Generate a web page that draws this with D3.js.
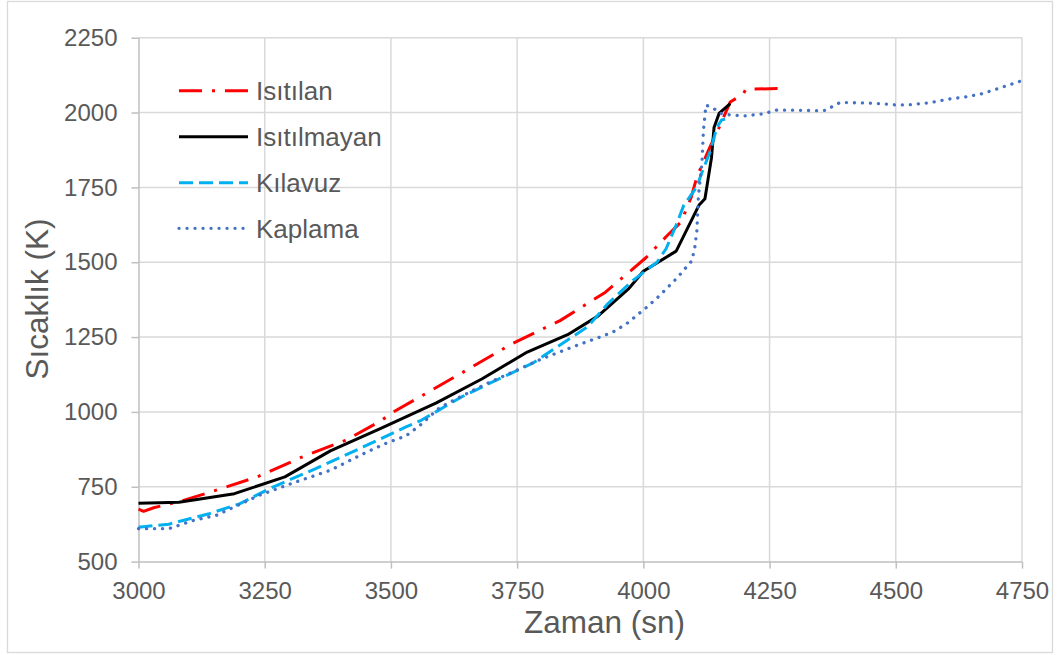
<!DOCTYPE html>
<html>
<head>
<meta charset="utf-8">
<script src="https://cdn.jsdelivr.net/npm/d3@7"></script>
<style>
  html, body { margin: 0; padding: 0; background: #fff; }
  svg { display: block; }
  text { font-family: "Liberation Sans", Arial, sans-serif; fill: #595959; }
</style>
</head>
<body>
<svg id="chart" width="1060" height="655"></svg>
<script>
// ---- Data ----
const xTicks = [3000, 3250, 3500, 3750, 4000, 4250, 4500, 4750];
const yTicks = [500, 750, 1000, 1250, 1500, 1750, 2000, 2250];

const seriesNames = ["Isıtılan", "Isıtılmayan", "Kılavuz", "Kaplama"];

const isitilanTime = [3000, 3010, 3030, 3080, 3140, 3235, 3325, 3410, 3480, 3500, 3640, 3740, 3835, 3925, 4005, 4045, 4075, 4095, 4106, 4132, 4150, 4172, 4198, 4203, 4268];
const isitilanTemp = [675, 668, 680, 700, 731, 783, 850, 905, 970, 995, 1130, 1228, 1305, 1400, 1515, 1585, 1635, 1718, 1785, 1885, 1950, 2035, 2062, 2078, 2080];

const isitilmayanTime = [3000, 3080, 3190, 3290, 3380, 3480, 3590, 3680, 3770, 3850, 3910, 3970, 4000, 4065, 4110, 4122, 4135, 4140, 4150, 4172];
const isitilmayanTemp = [695, 698, 727, 783, 870, 945, 1030, 1110, 1200, 1258, 1320, 1410, 1470, 1537, 1690, 1712, 1850, 1950, 1997, 2030];

const kilavuzTime = [3000, 3060, 3140, 3200, 3265, 3350, 3445, 3530, 3560, 3640, 3695, 3780, 3850, 3890, 3930, 3980, 4027, 4045, 4066, 4080, 4106, 4116, 4132, 4146, 4155, 4162];
const kilavuzTemp = [615, 625, 660, 693, 748, 810, 883, 950, 972, 1050, 1095, 1162, 1240, 1285, 1362, 1440, 1500, 1545, 1628, 1690, 1752, 1800, 1868, 1952, 1975, 1978];

const kaplamaTime = [3000, 3060, 3110, 3155, 3190, 3240, 3310, 3380, 3445, 3490, 3530, 3558, 3597, 3643, 3690, 3742, 3800, 3860, 3914, 3940, 3967, 4007, 4030, 4066, 4096, 4102, 4106, 4109, 4116, 4119, 4124, 4139, 4152, 4172, 4201, 4235, 4264, 4300, 4347, 4363, 4376, 4390, 4456, 4505, 4535, 4568, 4601, 4634, 4667, 4697, 4747];
const kaplamaTemp = [610, 610, 638, 655, 683, 722, 765, 805, 860, 895, 920, 956, 1015, 1055, 1095, 1134, 1178, 1217, 1250, 1267, 1295, 1350, 1385, 1446, 1505, 1550, 1605, 1720, 1830, 1940, 2025, 2014, 1997, 1992, 1989, 1995, 2008, 2008, 2006, 2008, 2022, 2034, 2031, 2025, 2027, 2033, 2044, 2051, 2061, 2077, 2105];

// ---- Layout ----
const svg = d3.select("#chart");
const plotLeft = 138.5, plotRight = 1022, plotTop = 37.7, plotBottom = 561.6;

const x = d3.scaleLinear().domain([3000, 4750]).range([plotLeft, plotRight]);
const y = d3.scaleLinear().domain([500, 2250]).range([plotBottom, plotTop]);

// outer border
svg.append("rect")
  .attr("x", 7.5).attr("y", 1.5).attr("width", 1045).attr("height", 651)
  .attr("fill", "none").attr("stroke", "#d9d9d9").attr("stroke-width", 1.3);

// gridlines
const grid = svg.append("g");
grid.selectAll("line.v").data(xTicks.slice(1)).enter().append("line")
  .attr("x1", d => x(d)).attr("x2", d => x(d))
  .attr("y1", plotTop).attr("y2", plotBottom)
  .attr("stroke", "#d9d9d9").attr("stroke-width", 1.5);
grid.selectAll("line.h").data(yTicks.slice(1)).enter().append("line")
  .attr("x1", plotLeft).attr("x2", plotRight)
  .attr("y1", d => y(d)).attr("y2", d => y(d))
  .attr("stroke", "#d9d9d9").attr("stroke-width", 1.5);

// axes
const xAxis = d3.axisBottom(x).tickValues(xTicks).tickSize(7).tickPadding(13).tickFormat(d3.format("d"));
const yAxis = d3.axisLeft(y).tickValues(yTicks).tickSize(7).tickPadding(14).tickFormat(d3.format("d"));

const gx = svg.append("g").attr("transform", `translate(0,${plotBottom})`).call(xAxis);
const gy = svg.append("g").attr("transform", `translate(${plotLeft},0)`).call(yAxis);
[gx, gy].forEach(g => {
  g.select(".domain").attr("stroke", "#bfbfbf").attr("stroke-width", 1.5);
  g.selectAll(".tick line").attr("stroke", "#bfbfbf").attr("stroke-width", 1.5);
  g.selectAll(".tick text").attr("fill", "#595959")
    .style("font-family", '"Liberation Sans", Arial, sans-serif')
    .style("font-size", "24px");
});
gy.select(".domain").attr("d", `M0.5,${plotBottom}V${plotTop}`);
gx.select(".domain").attr("d", `M${plotLeft},0.5H${plotRight}`);

// series
const series = [
  { name: seriesNames[0], t: isitilanTime, k: isitilanTemp, color: "#ff0000", dash: "23,10,3,10", cap: "butt", w: 3 },
  { name: seriesNames[1], t: isitilmayanTime, k: isitilmayanTemp, color: "#000000", dash: null, cap: "butt", w: 3 },
  { name: seriesNames[2], t: kilavuzTime, k: kilavuzTemp, color: "#00b0f0", dash: "14,6", cap: "butt", w: 3 },
  { name: seriesNames[3], t: kaplamaTime, k: kaplamaTemp, color: "#4472c4", dash: "0.1,7.9", cap: "round", w: 3.3 }
];

const line = d3.line().x(d => x(d[0])).y(d => y(d[1]));

series.forEach(s => {
  const pts = s.t.map((tv, i) => [tv, s.k[i]]);
  svg.append("path")
    .attr("d", line(pts))
    .attr("fill", "none")
    .attr("stroke", s.color)
    .attr("stroke-width", s.w)
    .attr("stroke-linecap", s.cap)
    .attr("stroke-linejoin", "round")
    .attr("stroke-dasharray", s.dash);
});

// legend
const legendY = [90.7, 136.7, 182.7, 228.3];
const lg = svg.append("g");
series.forEach((s, i) => {
  lg.append("line")
    .attr("x1", 179).attr("x2", 248)
    .attr("y1", legendY[i]).attr("y2", legendY[i])
    .attr("stroke", s.color).attr("stroke-width", s.w)
    .attr("stroke-linecap", s.cap)
    .attr("stroke-dasharray", s.dash);
  lg.append("text")
    .attr("x", 256).attr("y", legendY[i] + 9.3)
    .style("font-size", "26px")
    .text(s.name);
});

// axis titles
svg.append("text")
  .attr("x", 604.5).attr("y", 633)
  .attr("text-anchor", "middle")
  .style("font-size", "31.5px")
  .text("Zaman (sn)");

svg.append("text")
  .attr("transform", "translate(48,299) rotate(-90)")
  .attr("text-anchor", "middle")
  .style("font-size", "31.5px")
  .text("Sıcaklık (K)");
</script>
</body>
</html>
